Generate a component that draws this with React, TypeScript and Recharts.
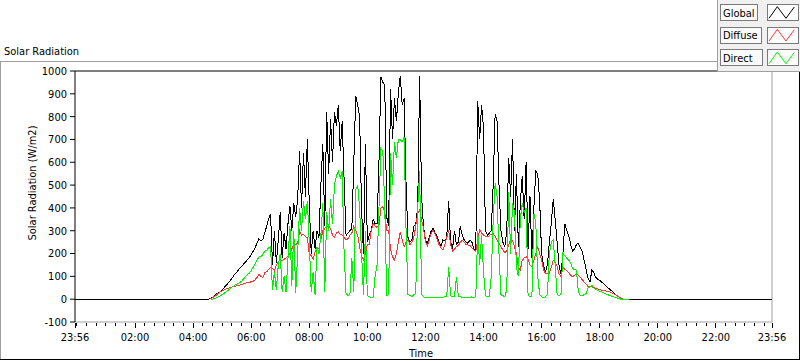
import React from "react";
import { LineChart, Line, XAxis, YAxis, ReferenceLine } from "recharts";

const FONT = "'DejaVu Sans Condensed', 'DejaVu Sans', sans-serif";

// daylight samples: every 4 minutes from 04:36 to 19:00 (minutes after midnight)
const DAY_START = 276;
const STEP = 4;
// chart runs from 23:56 the day before to 23:56; flat zero until sunrise
const T_FIRST = -4;
const T_SUNRISE = 272;
const T_LAST = 1436;

const globalRad = [
  3, 8, 15, 22, 28, 32, 40, 50, 60, 70, 80, 90, 104, 113, 124, 134, 144, 153, 162, 172, 182, 195, 210, 225, 245, 265, 255, 262, 290, 320, 350, 375,
  150, 300, 160, 260, 380, 180, 290, 220, 330, 410, 300, 420, 360, 440, 650, 400, 640, 450, 700, 420, 200, 300, 220, 300, 270, 500, 680, 320, 820, 550, 790, 600, 820, 760, 850, 650, 780,
  520, 280, 290, 300, 310, 600, 890, 850, 800, 400, 200, 680, 250, 280, 300, 350, 330, 330, 600, 975, 950, 940, 360, 320, 920, 700, 880, 780, 900, 980, 850, 880, 500, 270, 250, 260, 320, 330, 400, 980,
  450, 320, 260, 245, 270, 300, 310, 290, 275, 250, 230, 260, 255, 270, 430, 250, 220, 300, 240, 250, 320, 280, 260, 250, 245, 260, 250, 220, 215, 870, 700, 850, 750, 300, 280, 290, 300, 500, 810, 780, 500, 300,
  250, 230, 300, 620, 450, 700, 300, 550, 230, 420, 540, 350, 600, 220, 450, 180, 400, 560, 550, 430, 200, 150, 120, 150, 250, 330, 440, 350, 250, 150, 110, 200, 330, 300, 280, 240, 210, 220, 240, 245, 225, 210, 170, 130, 90, 75, 130, 115, 95, 88,
  82, 75, 68, 60, 52, 45, 38, 30, 22, 15, 9, 4, 0, 0, 0, 0,
];

const diffuseRad = [
  2, 6, 12, 18, 25, 32, 36, 40, 44, 48, 50, 53, 55, 57, 59, 61, 64, 67, 70, 72, 74, 76, 78, 85, 95, 110, 100, 95, 115, 120, 130, 140,
  135, 125, 150, 165, 170, 168, 175, 180, 190, 200, 220, 237, 240, 245, 300, 280, 285, 275, 270, 200, 190, 175, 210, 215, 225, 260, 300, 310, 317, 320, 310, 280, 270, 290, 295, 285, 280,
  270, 260, 265, 280, 290, 320, 300, 280, 230, 190, 171, 200, 240, 240, 300, 332, 320, 315, 325, 400, 405, 383, 300, 300, 220, 186, 171, 200, 250, 295, 260, 230, 250, 260, 240, 250, 270, 320, 376, 390,
  346, 310, 250, 235, 260, 290, 303, 285, 265, 240, 225, 215, 240, 270, 303, 240, 210, 220, 230, 235, 250, 259, 250, 240, 237, 235, 225, 215, 208, 260, 303, 290, 280, 275, 273, 278, 285, 288, 275, 260, 244, 230,
  215, 205, 210, 240, 259, 255, 230, 200, 140, 127, 171, 180, 186, 175, 150, 142, 171, 200, 230, 200, 171, 130, 113, 113, 113, 140, 171, 160, 145, 110, 100, 142, 130, 125, 115, 105, 98, 105, 110, 105, 95, 85, 75, 65, 56, 54, 55, 50, 47, 45,
  42, 40, 38, 36, 34, 32, 28, 24, 20, 15, 10, 5, 0, 0, 0, 0,
];

const directRad = [
  0, 0, 3, 6, 10, 15, 20, 26, 32, 38, 45, 52, 58, 64, 68, 72, 78, 88, 98, 108, 113, 125, 140, 155, 170, 185, 185, 195, 210, 215, 225, 230,
  40, 120, 40, 150, 200, 30, 100, 30, 180, 320, 60, 300, 25, 200, 400, 300, 430, 350, 430, 250, 30, 120, 20, 230, 200, 280, 420, 30, 380, 300, 440, 330, 500, 540, 560, 530, 560,
  200, 25, 15, 20, 180, 30, 480, 500, 400, 200, 20, 300, 15, 10, 8, 10, 100, 150, 400, 660, 650, 400, 15, 20, 640, 500, 690, 620, 700, 700, 690, 710, 300, 20, 15, 12, 20, 25, 400, 560,
  20, 10, 8, 8, 8, 6, 8, 8, 6, 6, 8, 8, 10, 12, 140, 15, 10, 12, 98, 12, 10, 8, 8, 8, 6, 8, 10, 8, 10, 300, 150, 280, 120, 15, 10, 12, 100, 350, 507, 450, 200, 20,
  15, 12, 40, 470, 200, 420, 380, 140, 100, 350, 420, 380, 400, 20, 10, 15, 375, 332, 100, 20, 10, 8, 10, 20, 200, 250, 260, 150, 20, 15, 20, 200, 190, 180, 171, 160, 134, 130, 127, 30, 17, 15, 20, 25, 50, 54, 60, 50, 42, 38,
  35, 32, 28, 24, 20, 17, 14, 11, 8, 5, 3, 0, 0, 0, 0, 0,
];

const Y_TICKS = [-100, 0, 100, 200, 300, 400, 500, 600, 700, 800, 900, 1000];
const MAJOR_TIMES = [-4, 120, 240, 360, 480, 600, 720, 840, 960, 1080, 1200, 1320, 1436];
const MAJOR_LABELS = ["23:56", "02:00", "04:00", "06:00", "08:00", "10:00", "12:00", "14:00", "16:00", "18:00", "20:00", "22:00", "23:56"];
const MINOR_STEP = 20;

const LEGEND = [
  { name: "Global", color: "#000000", boxWidth: 37 },
  { name: "Diffuse", color: "#ff3333", boxWidth: 41 },
  { name: "Direct", color: "#00ee00", boxWidth: 42 },
];

const rows: any[] = [
  { t: T_FIRST, global: 0 },
  { t: T_SUNRISE, global: 0 },
];
globalRad.forEach((g, i) => {
  rows.push({ t: DAY_START + i * STEP, global: g, diffuse: diffuseRad[i], direct: directRad[i] });
});
rows.push({ t: T_LAST, global: 0 });

const xTicks: number[] = [...MAJOR_TIMES];
for (let m = 0; m < T_LAST; m += MINOR_STEP) {
  if (!MAJOR_TIMES.includes(m)) xTicks.push(m);
}
xTicks.sort((a, b) => a - b);

const TimeTick = (props: any) => {
  const { x, y, payload } = props;
  const idx = MAJOR_TIMES.indexOf(payload.value);
  const major = idx >= 0;
  return (
    <g>
      <line x1={x} x2={x} y1={y + 1} y2={y + (major ? 6 : 4)} stroke="#000" shapeRendering="crispEdges" />
      {major && (
        <text x={x} y={y + 19} textAnchor="middle" fontSize={11} fontFamily={FONT} fill="#000">
          {MAJOR_LABELS[idx]}
        </text>
      )}
    </g>
  );
};

export default function App() {
  return (
    <div style={{ position: "absolute", left: 0, top: 0, width: 800, height: 361, background: "#fff" }}>
      <LineChart width={800} height={361} data={rows} margin={{ top: 71, right: 28, bottom: 9, left: 5 }}>
        <XAxis
          dataKey="t"
          type="number"
          domain={[T_FIRST, T_LAST]}
          ticks={xTicks}
          interval={0}
          height={30}
          tickSize={0}
          tickMargin={0}
          tickLine={false}
          tick={<TimeTick />}
          axisLine={{ stroke: "#a0a0a0" }}
        />
        <YAxis
          type="number"
          domain={[-100, 1000]}
          ticks={Y_TICKS}
          interval={0}
          width={70}
          tickSize={5}
          tickMargin={3}
          tick={{ fill: "#000", fontSize: 11, fontFamily: FONT }}
          tickLine={{ stroke: "#000" }}
          axisLine={{ stroke: "#000" }}
        />
        <ReferenceLine y={1000} stroke="#000" />
        <ReferenceLine x={T_LAST} stroke="#a0a0a0" />
        <Line dataKey="global" type="linear" stroke="#000000" strokeWidth={1} dot={false} isAnimationActive={false} shapeRendering="crispEdges" />
        <Line dataKey="diffuse" type="linear" stroke="#ff3333" strokeWidth={1} dot={false} isAnimationActive={false} connectNulls={false} shapeRendering="crispEdges" />
        <Line dataKey="direct" type="linear" stroke="#00ee00" strokeWidth={1} dot={false} isAnimationActive={false} connectNulls={false} shapeRendering="crispEdges" />
      </LineChart>
      <svg width={800} height={361} style={{ position: "absolute", left: 0, top: 0, pointerEvents: "none" }}>
        <g shapeRendering="crispEdges">
          <line x1={0} x2={800} y1={61.5} y2={61.5} stroke="#a0a0a0" />
          <line x1={0.5} x2={0.5} y1={61} y2={360} stroke="#a0a0a0" />
          <line x1={0} x2={800} y1={359.5} y2={359.5} stroke="#000" />
          <line x1={799.5} x2={799.5} y1={61} y2={360} stroke="#000" />
        </g>
        <text x={4} y={55} fontSize={11} fontFamily={FONT} fill="#000">Solar Radiation</text>
        <text x={36} y={183} fontSize={11} fontFamily={FONT} fill="#000" textAnchor="middle" transform="rotate(-90 36 183)">
          Solar Radiation (W/m2)
        </text>
        <text x={421} y={357} fontSize={11} fontFamily={FONT} fill="#000" textAnchor="middle">Time</text>
        <g shapeRendering="crispEdges">
          <rect x={717} y={0} width={83} height={72} fill="#f0f0f0" />
          <line x1={717.5} x2={717.5} y1={0} y2={72} stroke="#a0a0a0" />
          <line x1={717} x2={800} y1={71.5} y2={71.5} stroke="#a0a0a0" />
        </g>
        {LEGEND.map((item, i) => {
          const top = 4 + i * 22.7;
          return (
            <g key={item.name}>
              <rect x={720.5} y={top + 0.5} width={item.boxWidth} height={16} fill="#fafafa" stroke="#7a7a7a" shapeRendering="crispEdges" />
              <text x={723} y={top + 12.5} fontSize={11} fontFamily={FONT} fill="#000">{item.name}</text>
              <rect x={767.5} y={top + 0.5} width={31} height={16} fill="#fff" stroke="#7a7a7a" shapeRendering="crispEdges" />
              <polyline
                points={`${769},${top + 14.3} ${777.3},${top + 2.7} ${786},${top + 14.3} ${794.3},${top + 3}`}
                fill="none"
                stroke={item.color}
                strokeWidth={1}
              />
            </g>
          );
        })}
      </svg>
    </div>
  );
}
